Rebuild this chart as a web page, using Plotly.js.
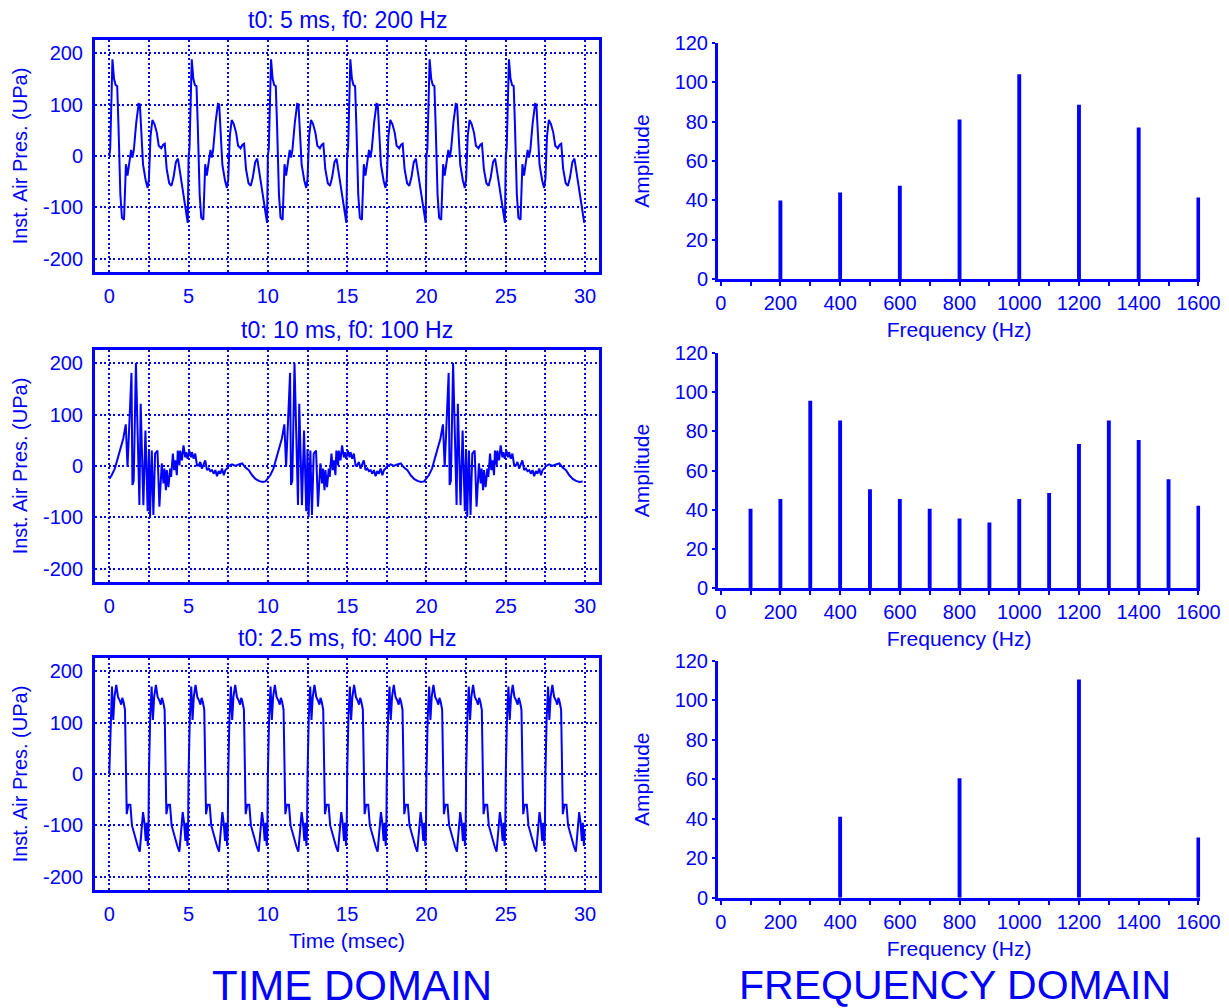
<!DOCTYPE html>
<html><head><meta charset="utf-8">
<script src="https://cdn.plot.ly/plotly-3.0.1.min.js"></script>
<style>html,body{margin:0;padding:0;background:#fff;}#chart{width:1229px;height:1008px;}</style>
</head><body><div id="chart"></div>
<script>
// ---- DATA ----
const panelTitles = ['t0: 5 ms, f0: 200 Hz', 't0: 10 ms, f0: 100 Hz', 't0: 2.5 ms, f0: 400 Hz'];
const timeTicks = [0, 5, 10, 15, 20, 25, 30];
const timeMinorTicks = [2.5, 7.5, 12.5, 17.5, 22.5, 27.5];
const pressureTicks = [-200, -100, 0, 100, 200];
const freqTicks = [0, 200, 400, 600, 800, 1000, 1200, 1400, 1600];
const freqMinorTicks = [100, 300, 500, 700, 900, 1100, 1300, 1500];
const ampTicks = [0, 20, 40, 60, 80, 100, 120];
const totalMs = 30;

// one measured period of each waveform (time within period in ms, pressure)
const period200 = 5;
const wave200T = [0, 0.06, 0.2, 0.3, 0.4, 0.5, 0.58, 0.7, 0.8, 0.93, 1.05, 1.15, 1.3, 1.38, 1.46, 1.55, 1.7, 1.85, 1.93, 2.05, 2.13, 2.3, 2.42, 2.5, 2.6, 2.72, 2.85, 3.0, 3.12, 3.28, 3.4, 3.5, 3.62, 3.78, 3.92, 4.05, 4.2, 4.33, 4.45, 4.62, 4.78, 4.95];
const wave200V = [0, 15, 188, 150, 138, 136, 60, -75, -120, -124, -16, -38, -5, 12, -3, 12, 65, 101, 100, 40, -17, -48, -62, -45, 38, 70, 62, 45, 20, 15, 22, 24, -25, -53, -58, -42, -12, -5, -28, -68, -100, -130];

const period100 = 10;
const wave100T = [0, 0.15, 0.35, 0.56, 0.71, 0.88, 1.04, 1.15, 1.40, 1.46, 1.54, 1.68, 1.90, 1.98, 2.15, 2.28, 2.42, 2.50, 2.57, 2.68, 2.78, 2.89, 3.04, 3.16, 3.31, 3.42, 3.48, 3.57, 3.63, 3.73, 3.84, 3.90, 4.01, 4.09, 4.16, 4.26, 4.32, 4.43, 4.47, 4.58, 4.68, 4.79, 4.85, 4.94, 5.04, 5.15, 5.21, 5.32, 5.42, 5.53, 5.63, 5.74, 5.84, 5.95, 6.05, 6.16, 6.27, 6.37, 6.48, 6.58, 6.69, 6.79, 6.90, 7.0, 7.11, 7.22, 7.32, 7.43, 7.53, 7.74, 7.95, 8.16, 8.38, 8.59, 8.80, 9.01, 9.22, 9.43, 9.65, 9.85];
const wave100V = [-25, -18, -5, 17, 37, 53, 81, -2, 181, -37, -29, 200, -76, 121, -76, 69, -88, 33, -99, 30, -95, 24, 30, -79, 5, -34, -5, -47, -8, -41, -5, -21, 24, -8, 11, -18, 30, 1, 30, 11, 40, 17, 27, 14, 30, 17, 27, 14, 24, 1, 1, 8, -5, 5, 11, -8, -5, -10, -8, -15, -8, -20, -10, -15, -5, -18, -8, -5, 0, 3, 0, 3, 5, -3, -8, -18, -25, -29, -31, -30];

const period400 = 2.5;
const wave400T = [0, 0.08, 0.17, 0.25, 0.33, 0.44, 0.55, 0.67, 0.75, 0.82, 0.9, 0.99, 1.1, 1.2, 1.33, 1.43, 1.55, 1.7, 1.8, 1.92, 2.02, 2.13, 2.22, 2.3, 2.36, 2.43, 2.47];
const wave400V = [0, 110, 170, 105, 150, 173, 150, 142, 135, 148, 140, 125, -78, -60, -60, -100, -115, -128, -141, -151, -120, -74, -96, -130, -95, -140, -110];

const freq200 = [200, 400, 600, 800, 1000, 1200, 1400, 1600];
const amp200 = [40, 44, 47.5, 81, 104, 88.5, 77, 41.5];
const freq100 = [100, 200, 300, 400, 500, 600, 700, 800, 900, 1000, 1100, 1200, 1300, 1400, 1500, 1600];
const amp100 = [40.5, 45.5, 95.5, 85.5, 50.5, 45.5, 40.5, 35.5, 33.5, 45.5, 48.5, 73.5, 85.5, 75.5, 55.5, 42];
const freq400 = [400, 800, 1200, 1600];
const amp400 = [41, 60.5, 110.5, 30.5];

// ---- BUILD ----
function tile(pt, pv, period) {
  const x = [], y = [];
  const n = Math.round(totalMs / period);
  for (let k = 0; k < n; k++) {
    for (let i = 0; i < pt.length; i++) { x.push(k * period + pt[i]); y.push(pv[i]); }
  }
  return {x, y};
}
const BLUE = '#0000ff';
const FONT = 'Liberation Sans, Arial, sans-serif';
const W = 1229, H = 1008;
const px = v => v / W, py = v => 1 - v / H;

const waves = [tile(wave200T, wave200V, period200), tile(wave100T, wave100V, period100), tile(wave400T, wave400V, period400)];
const specs = [[freq200, amp200], [freq100, amp100], [freq400, amp400]];

// pixel layout of each row: [left frame top, left frame bottom, right plot top, right baseline]
const rows = [[40, 272, 42.7, 279.3], [350, 582, 352.7, 588.3], [658, 890, 660.7, 897.7]];

const data = [];
const layout = {
  width: W, height: H, margin: {l: 0, r: 0, t: 0, b: 0},
  paper_bgcolor: '#fff', plot_bgcolor: '#fff', showlegend: false,
  font: {family: FONT, color: BLUE, size: 20},
  annotations: []
};

const dotGrid = {gridcolor: BLUE, gridwidth: 2, griddash: '2px,2.5px'};

rows.forEach((r, i) => {
  const xl = 'x' + (2 * i + 1), yl = 'y' + (2 * i + 1);
  const xr = 'x' + (2 * i + 2), yr = 'y' + (2 * i + 2);
  const kxl = 'xaxis' + (2 * i + 1 === 1 ? '' : 2 * i + 1), kyl = 'yaxis' + (2 * i + 1 === 1 ? '' : 2 * i + 1);
  const kxr = 'xaxis' + (2 * i + 2), kyr = 'yaxis' + (2 * i + 2);

  data.push({type: 'scatter', mode: 'lines', x: waves[i].x, y: waves[i].y, xaxis: xl, yaxis: yl,
    line: {color: BLUE, width: 2}, hoverinfo: 'skip'});
  data.push({type: 'bar', x: specs[i][0], y: specs[i][1], xaxis: xr, yaxis: yr, width: 13,
    marker: {color: BLUE, line: {width: 0}}, hoverinfo: 'skip'});

  layout[kxl] = Object.assign({
    domain: [px(95), px(599)], anchor: yl, range: [-0.9, 30.88],
    tickmode: 'array', tickvals: timeTicks, ticktext: timeTicks.map(String),
    showgrid: true, zeroline: false, showline: true, mirror: true, linecolor: BLUE, linewidth: 3,
    ticks: '', ticklabelstandoff: 4, tickfont: {size: 20, color: BLUE},
    minor: Object.assign({tickmode: 'array', tickvals: timeMinorTicks, showgrid: true}, dotGrid),
    title: i === 2 ? {text: 'Time (msec)', font: {size: 21, color: BLUE}, standoff: 10} : {text: ''}
  }, dotGrid);
  layout[kyl] = Object.assign({
    domain: [py(r[1]), py(r[0])], anchor: xl, range: [-225.5, 225.5],
    tickmode: 'array', tickvals: pressureTicks, ticktext: pressureTicks.map(String),
    showgrid: true, zeroline: false, showline: true, mirror: true, linecolor: BLUE, linewidth: 3,
    ticks: '', ticklabelstandoff: 5, tickfont: {size: 20, color: BLUE},
    title: {text: 'Inst. Air Pres. (UPa)', font: {size: 20, color: BLUE}, standoff: 10}
  }, dotGrid);

  layout[kxr] = {
    domain: [px(718), px(1200.2)], anchor: yr, range: [-9, 1606],
    tickmode: 'array', tickvals: freqTicks, ticktext: freqTicks.map(String),
    showgrid: false, zeroline: false, showline: true, linecolor: BLUE, linewidth: 3,
    ticks: 'outside', ticklen: 4, tickwidth: 2, tickcolor: BLUE,
    minor: {tickmode: 'array', tickvals: freqMinorTicks, ticks: 'outside', ticklen: 4, tickwidth: 2, tickcolor: BLUE},
    tickfont: {size: 20, color: BLUE},
    title: {text: 'Frequency (Hz)', font: {size: 21, color: BLUE}, standoff: 10}
  };
  layout[kyr] = {
    domain: [py(r[3]), py(r[2])], anchor: xr, range: [0, 120],
    tickmode: 'array', tickvals: ampTicks, ticktext: ampTicks.map(String),
    showgrid: false, zeroline: false, showline: true, linecolor: BLUE, linewidth: 3,
    ticks: 'outside', ticklen: 3, tickwidth: 2, tickcolor: BLUE,
    tickfont: {size: 20, color: BLUE},
    title: {text: 'Amplitude', font: {size: 21, color: BLUE}, standoff: 20}
  };

  layout.annotations.push({text: panelTitles[i], xref: 'paper', yref: 'paper', x: px(347), y: py(r[0] - 20),
    xanchor: 'center', yanchor: 'middle', showarrow: false, font: {size: 23, color: BLUE}});
});

layout.annotations.push({text: 'TIME DOMAIN', xref: 'paper', yref: 'paper', x: px(352), y: py(985),
  xanchor: 'center', yanchor: 'middle', showarrow: false, font: {size: 42, color: BLUE}});
layout.annotations.push({text: 'FREQUENCY DOMAIN', xref: 'paper', yref: 'paper', x: px(955), y: py(985),
  xanchor: 'center', yanchor: 'middle', showarrow: false, font: {size: 41, color: BLUE}});

Plotly.newPlot('chart', data, layout, {staticPlot: true, displayModeBar: false});
</script></body></html>
